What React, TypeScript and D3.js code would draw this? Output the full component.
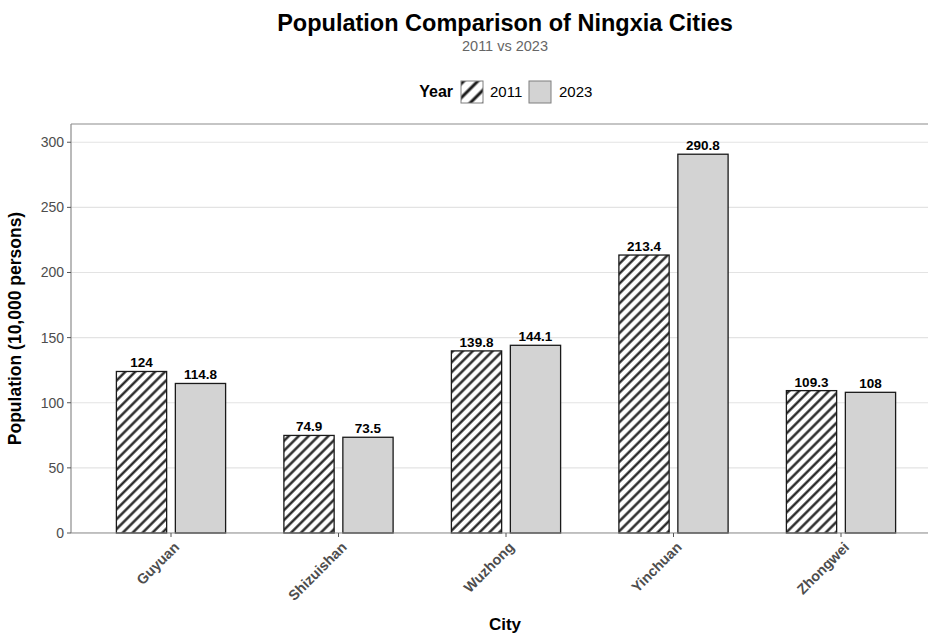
import * as d3 from "d3"

const cities = ["Guyuan", "Shizuishan", "Wuzhong", "Yinchuan", "Zhongwei"]
const pop2011 = [124, 74.9, 139.8, 213.4, 109.3]
const pop2023 = [114.8, 73.5, 144.1, 290.8, 108]
const yTicks = [0, 50, 100, 150, 200, 250, 300]

const W = 928
const H = 635
const panel = { left: 71, top: 124, right: 940, bottom: 533 }
const font = "'Liberation Sans', Arial, Helvetica, sans-serif"

export default function App() {
  const y = d3.scaleLinear().domain([0, 314]).range([panel.bottom, panel.top])
  const x = d3.scaleLinear().domain([0, cities.length - 1]).range([171, 841])
  const unit = x(1) - x(0)
  const barW = 0.3 * unit
  const dodge = 0.176 * unit

  const series = [
    { key: "2011", values: pop2011, offset: -dodge, fill: "url(#hatch)" },
    { key: "2023", values: pop2023, offset: dodge, fill: "#d3d3d3" },
  ]

  return (
    <svg width={W} height={H} style={{ display: "block", position: "absolute", left: 0, top: 0 }} fontFamily={font}>
      <defs>
        <pattern id="hatch" patternUnits="userSpaceOnUse" width={7} height={7} patternTransform="rotate(45)">
          <rect width={7} height={7} fill="#fff" />
          <line x1={1.5} y1={0} x2={1.5} y2={7} stroke="#1a1a1a" strokeWidth={2.3} />
        </pattern>
        <pattern id="hatchKey" patternUnits="userSpaceOnUse" width={10} height={10} patternTransform="translate(461,81) rotate(45)">
          <rect width={10} height={10} fill="#fff" />
          <line x1={2} y1={0} x2={2} y2={10} stroke="#1a1a1a" strokeWidth={3} />
        </pattern>
        <clipPath id="clipPanel">
          <rect x={panel.left} y={panel.top} width={panel.right - panel.left} height={panel.bottom - panel.top} />
        </clipPath>
      </defs>

      <rect width={W} height={H} fill="#fff" />

      {/* title */}
      <text x={505} y={31} textAnchor="middle" fontSize={23.5} fontWeight="bold" fill="#000">
        Population Comparison of Ningxia Cities
      </text>
      <text x={505} y={51} textAnchor="middle" fontSize={14.5} fill="#666">
        2011 vs 2023
      </text>

      {/* legend */}
      <g fontSize={15}>
        <text x={453} y={97} textAnchor="end" fontWeight="bold" fontSize={16} fill="#000">Year</text>
        <rect x={461} y={81} width={22} height={22} fill="url(#hatchKey)" stroke="#7f7f7f" strokeWidth={1} />
        <text x={490} y={97} fill="#000">2011</text>
        <rect x={529} y={81} width={22} height={22} fill="#d3d3d3" stroke="#7f7f7f" strokeWidth={1} />
        <text x={559} y={97} fill="#000">2023</text>
      </g>

      {/* grid */}
      <g clipPath="url(#clipPanel)">
        {yTicks.map((t) => (
          <line key={t} x1={panel.left} x2={panel.right} y1={y(t)} y2={y(t)} stroke="#e3e3e3" strokeWidth={1.1} />
        ))}
      </g>

      {/* bars */}
      {series.map((s) =>
        s.values.map((v, i) => {
          const cx = x(i) + s.offset
          return (
            <g key={s.key + i}>
              <rect
                x={cx - barW / 2}
                y={y(v)}
                width={barW}
                height={y(0) - y(v)}
                fill={s.fill}
                stroke="#1a1a1a"
                strokeWidth={1.3}
              />
              <text x={cx} y={y(v) - 4} textAnchor="middle" fontSize={13.5} fontWeight="bold" fill="#000">
                {v}
              </text>
            </g>
          )
        })
      )}

      {/* panel border */}
      <line x1={panel.left} x2={panel.right} y1={panel.top} y2={panel.top} stroke="#8c8c8c" strokeWidth={1.2} />
      <line x1={panel.left} x2={panel.left} y1={panel.top} y2={panel.bottom} stroke="#8c8c8c" strokeWidth={1.2} />
      <line x1={panel.left} x2={panel.right} y1={panel.bottom} y2={panel.bottom} stroke="#8c8c8c" strokeWidth={1.2} />

      {/* y axis */}
      {yTicks.map((t) => (
        <g key={t}>
          <line x1={panel.left - 4} x2={panel.left} y1={y(t)} y2={y(t)} stroke="#555" strokeWidth={1} />
          <text x={panel.left - 7} y={y(t)} dy="0.35em" textAnchor="end" fontSize={14} fill="#4d4d4d">
            {t}
          </text>
        </g>
      ))}
      <text
        transform={`translate(21,${(panel.top + panel.bottom) / 2}) rotate(-90)`}
        textAnchor="middle"
        fontSize={17.5}
        fontWeight="bold"
        fill="#000"
      >
        Population (10,000 persons)
      </text>

      {/* x axis */}
      {cities.map((c, i) => (
        <g key={c}>
          <line x1={x(i)} x2={x(i)} y1={panel.bottom} y2={panel.bottom + 4} stroke="#555" strokeWidth={1} />
          <text
            transform={`translate(${x(i) + 2},${panel.bottom + 8}) rotate(-45)`}
            textAnchor="end"
            dy="0.7em"
            fontSize={14.3}
            fontWeight="bold"
            fill="#4d4d4d"
          >
            {c}
          </text>
        </g>
      ))}
      <text x={505} y={630} textAnchor="middle" fontSize={17} fontWeight="bold" fill="#000">
        City
      </text>
    </svg>
  )
}
